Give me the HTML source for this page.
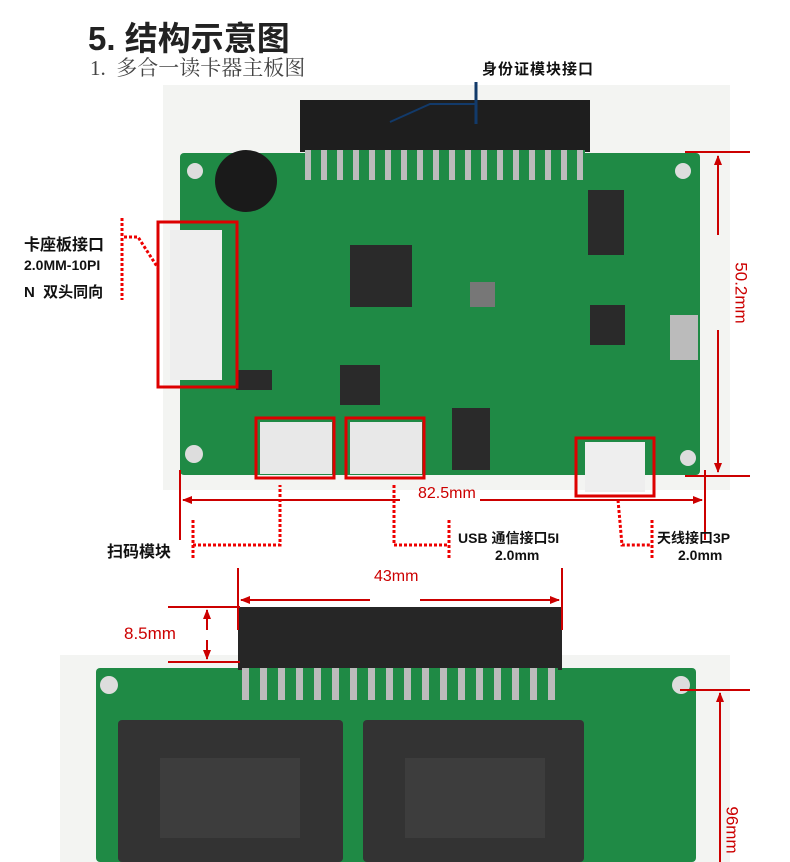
<!DOCTYPE html>
<html><head><meta charset="utf-8"><style>
html,body{margin:0;padding:0;background:#fff;}
body{width:790px;height:862px;position:relative;overflow:hidden;font-family:"Liberation Sans","Noto Sans CJK SC",sans-serif;}
.a{position:absolute;}
.t{position:absolute;white-space:nowrap;}
</style></head><body>
<div class="a" style="left:163px;top:85px;width:567px;height:405px;background:#f3f4f2"></div>
<div class="a" style="left:60px;top:655px;width:670px;height:207px;background:#f3f4f2"></div>

<!-- top board -->
<div class="a" style="left:180px;top:153px;width:520px;height:322px;background:#1f8a45;border-radius:4px"></div>
<div class="a" style="left:300px;top:100px;width:290px;height:52px;background:#1e1e1e"></div>
<div class="a" style="left:305px;top:150px;width:280px;height:30px;background:repeating-linear-gradient(90deg,#bbb 0 6px,#1f8a45 6px 16px)"></div>
<div class="a" style="left:215px;top:150px;width:62px;height:62px;border-radius:50%;background:#1a1a1a"></div>
<div class="a" style="left:187px;top:163px;width:16px;height:16px;border-radius:50%;background:#ddd"></div>
<div class="a" style="left:675px;top:163px;width:16px;height:16px;border-radius:50%;background:#ddd"></div>
<div class="a" style="left:680px;top:450px;width:16px;height:16px;border-radius:50%;background:#ddd"></div>
<div class="a" style="left:185px;top:445px;width:18px;height:18px;border-radius:50%;background:#ddd"></div>
<div class="a" style="left:350px;top:245px;width:62px;height:62px;background:#2a2a2a"></div>
<div class="a" style="left:588px;top:190px;width:36px;height:65px;background:#2a2a2a"></div>
<div class="a" style="left:590px;top:305px;width:35px;height:40px;background:#2a2a2a"></div>
<div class="a" style="left:452px;top:408px;width:38px;height:62px;background:#2a2a2a"></div>
<div class="a" style="left:340px;top:365px;width:40px;height:40px;background:#2a2a2a"></div>
<div class="a" style="left:470px;top:282px;width:25px;height:25px;background:#777"></div>
<div class="a" style="left:170px;top:230px;width:52px;height:150px;background:#eee"></div>
<div class="a" style="left:260px;top:422px;width:72px;height:52px;background:#e8e8e8"></div>
<div class="a" style="left:350px;top:422px;width:72px;height:52px;background:#e8e8e8"></div>
<div class="a" style="left:585px;top:442px;width:60px;height:50px;background:#eee"></div>
<div class="a" style="left:670px;top:315px;width:28px;height:45px;background:#bbb"></div>
<div class="a" style="left:236px;top:370px;width:36px;height:20px;background:#2a2a2a"></div>

<!-- bottom board -->
<div class="a" style="left:96px;top:668px;width:600px;height:194px;background:#1f8a45;border-radius:4px"></div>
<div class="a" style="left:238px;top:607px;width:324px;height:63px;background:#262626"></div>
<div class="a" style="left:242px;top:668px;width:316px;height:32px;background:repeating-linear-gradient(90deg,#bbb 0 7px,#1f8a45 7px 18px)"></div>
<div class="a" style="left:100px;top:676px;width:18px;height:18px;border-radius:50%;background:#ddd"></div>
<div class="a" style="left:672px;top:676px;width:18px;height:18px;border-radius:50%;background:#ddd"></div>
<div class="a" style="left:118px;top:720px;width:225px;height:142px;background:#333;border-radius:4px"></div>
<div class="a" style="left:363px;top:720px;width:221px;height:142px;background:#333;border-radius:4px"></div>
<div class="a" style="left:160px;top:758px;width:140px;height:80px;background:#3d3d3d"></div>
<div class="a" style="left:405px;top:758px;width:140px;height:80px;background:#3d3d3d"></div>

<svg class="a" style="left:0;top:0" width="790" height="862">
<defs>
<marker id="ar" markerUnits="userSpaceOnUse" markerWidth="10" markerHeight="8" refX="9" refY="4" orient="auto"><path d="M0,0 L10,4 L0,8 z" fill="#c00"/></marker>
</defs>
<g fill="none" stroke="#d00" stroke-width="3">
<rect x="158" y="222" width="79" height="165"/>
<rect x="256" y="418" width="78" height="60"/>
<rect x="346" y="418" width="78" height="60"/>
<rect x="576" y="438" width="78" height="58"/>
</g>
<g stroke="#c00" stroke-width="2" fill="none">
<line x1="685" y1="152" x2="750" y2="152"/><line x1="685" y1="476" x2="750" y2="476"/>
<line x1="718" y1="235" x2="718" y2="156" marker-end="url(#ar)"/>
<line x1="718" y1="330" x2="718" y2="472" marker-end="url(#ar)"/>
<line x1="180" y1="470" x2="180" y2="540"/><line x1="705" y1="470" x2="705" y2="540"/>
<line x1="400" y1="500" x2="183" y2="500" marker-end="url(#ar)"/>
<line x1="480" y1="500" x2="702" y2="500" marker-end="url(#ar)"/>
<line x1="238" y1="568" x2="238" y2="630"/><line x1="562" y1="568" x2="562" y2="630"/>
<line x1="370" y1="600" x2="241" y2="600" marker-end="url(#ar)"/>
<line x1="420" y1="600" x2="559" y2="600" marker-end="url(#ar)"/>
<line x1="168" y1="607" x2="240" y2="607"/><line x1="168" y1="662" x2="240" y2="662"/>
<line x1="207" y1="630" x2="207" y2="610" marker-end="url(#ar)"/>
<line x1="207" y1="640" x2="207" y2="659" marker-end="url(#ar)"/>
<line x1="680" y1="690" x2="750" y2="690"/>
<line x1="720" y1="780" x2="720" y2="693" marker-end="url(#ar)"/>
<line x1="720" y1="780" x2="720" y2="862"/>
</g>
<g stroke="#e00" stroke-width="3" stroke-dasharray="3,2" fill="none">
<line x1="122" y1="218" x2="122" y2="300"/>
<polyline points="124,237 138,237 158,268"/>
<line x1="193" y1="520" x2="193" y2="560"/>
<polyline points="193,545 280,545 280,485"/>
<polyline points="394,485 394,545 448,545"/>
<line x1="449" y1="520" x2="449" y2="560"/>
<polyline points="618,500 622,545 650,545"/>
<line x1="652" y1="520" x2="652" y2="560"/>
</g>
<polyline points="390,122 430,104 476,104" fill="none" stroke="#123a6a" stroke-width="2"/>
<line x1="476" y1="82" x2="476" y2="124" stroke="#123a6a" stroke-width="3"/>
</svg>

<div class="t" style="left:88px;top:12px;font-size:33px;font-weight:bold;color:#222">5. 结构示意图</div>
<div class="t" style="left:90px;top:52px;font-size:21px;color:#444;font-family:'Liberation Serif','Noto Serif CJK SC',serif">1.&nbsp; 多合一读卡器主板图</div>
<div class="t" style="left:482px;top:58px;font-size:15px;font-weight:bold;color:#111;letter-spacing:1px">身份证模块接口</div>
<div class="t" style="left:24px;top:231px;font-size:16px;font-weight:bold;color:#111">卡座板接口</div>
<div class="t" style="left:24px;top:257px;font-size:14px;font-weight:bold;color:#111">2.0MM-10PI</div>
<div class="t" style="left:24px;top:281px;font-size:15px;font-weight:bold;color:#111">N&nbsp; 双头同向</div>
<div class="t" style="left:107px;top:538px;font-size:16px;font-weight:bold;color:#111">扫码模块</div>
<div class="t" style="left:458px;top:528px;font-size:14px;font-weight:bold;color:#111">USB 通信接口5I</div>
<div class="t" style="left:495px;top:547px;font-size:14px;font-weight:bold;color:#111">2.0mm</div>
<div class="t" style="left:657px;top:528px;font-size:14px;font-weight:bold;color:#111">天线接口3P</div>
<div class="t" style="left:678px;top:547px;font-size:14px;font-weight:bold;color:#111">2.0mm</div>
<div class="t" style="left:418px;top:485px;font-size:16px;color:#c00">82.5mm</div>
<div class="t" style="left:374px;top:568px;font-size:16px;color:#c00">43mm</div>
<div class="t" style="left:124px;top:624px;font-size:17px;color:#c00">8.5mm</div>
<div class="t" style="left:710px;top:283px;font-size:17px;color:#c00;transform:rotate(90deg);transform-origin:center">50.2mm</div>
<div class="t" style="left:708px;top:820px;font-size:17px;color:#c00;transform:rotate(90deg);transform-origin:center">96mm</div>
</body></html>
